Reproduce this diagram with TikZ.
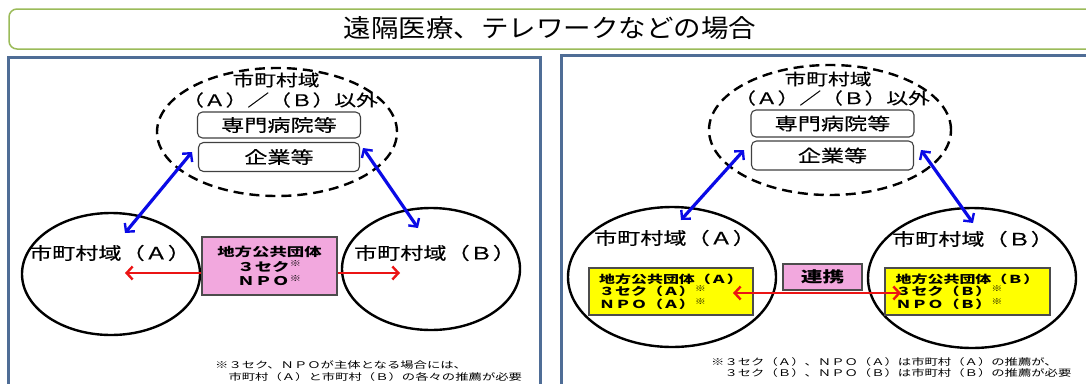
\documentclass[tikz,border=0pt]{standalone}
\usepackage{fontspec}
\setmainfont{Noto Sans CJK JP}
\newfontfamily\jpwide[FakeStretch=1.45]{Noto Sans CJK JP}
\newfontfamily\jplabel[FakeStretch=1.36,FakeBold=0.4]{Noto Sans CJK JP}
\newfontfamily\jptitle[FakeStretch=1.1]{Noto Sans CJK JP}
\usetikzlibrary{shapes.geometric,arrows,arrows.meta,positioning}
\definecolor{titlegreen}{RGB}{155,187,89}
\definecolor{panelblue}{RGB}{79,109,150}
\definecolor{boxpink}{RGB}{242,168,222}
\definecolor{boxyellow}{RGB}{255,255,0}
\definecolor{arrblue}{RGB}{10,10,230}
\definecolor{arrred}{RGB}{235,20,20}

\begin{document}
\begin{tikzpicture}[x=1pt,y=-1pt,
>={Straight Barb[length=6pt,width=13pt,line width=2.4pt]}]
\tikzstyle{area}=[ellipse,draw=black,line width=2.4pt,inner sep=0pt]
\tikzstyle{outside}=[ellipse,draw=black,line width=2.4pt,
dash pattern=on 10pt off 6pt,inner sep=0pt]
\tikzstyle{orgbox}=[rectangle,rounded corners=5pt,draw=black!75,
line width=1.1pt,inner sep=0pt,node distance=32pt,
font=\jplabel\fontsize{17}{19}\selectfont]
\tikzstyle{areatext}=[inner sep=0pt,font=\jplabel\fontsize{17}{19}\selectfont]
\tikzstyle{outtext}=[inner sep=0pt,font=\jplabel\fontsize{16}{18}\selectfont]
\tikzstyle{groupbox}=[rectangle,draw=black!70,line width=1.2pt,inner sep=0pt,
font=\jpwide\bfseries\fontsize{11}{12.5}\selectfont]
\tikzstyle{note}=[inner sep=0pt,anchor=north west,align=left,
font=\jpwide\fontsize{9.2}{11.5}\selectfont]
\tikzstyle{link}=[<->,line width=3.2pt,draw=arrblue]
\tikzstyle{tie}=[line width=2.6pt,draw=arrred]

\useasboundingbox (0,0) rectangle (1086,383);
\clip (0,0) rectangle (1086,383);
\fill[white] (0,0) rectangle (1086,383);

% title and panels
\draw[titlegreen,line width=1.5pt,rounded corners=8pt] (9,9) rectangle (1100,49);
\node[inner sep=0pt,font=\jptitle\fontsize{25}{27}\selectfont] (title) at (550,28)
{遠隔医療、テレワークなどの場合};
\draw[panelblue,line width=3pt] (8,400) -- (8,57) -- (540,57) -- (540,400);
\draw[panelblue,line width=3pt] (561,400) -- (561,55) -- (1100,55);

% left panel
\node[outside,minimum width=240pt,minimum height=128pt] (outL) at (277,132) {};
\node[outtext] (outL1) at (276,80) {市町村域};
\node[outtext] (outL2) at (280,100) {（Ａ）／（Ｂ）以外};
\node[orgbox,minimum width=163pt,minimum height=26pt] (hospL) at (279,125) {専門病院等};
\node[orgbox,minimum width=161pt,minimum height=29pt,below of=hospL] (compL) {企業等};

\node[area,minimum width=178pt,minimum height=122pt] (areaLA) at (111,274) {};
\node[area,minimum width=178pt,minimum height=122pt] (areaLB) at (431,269) {};
\node[areatext] (nameLA) at (110,253) {市町村域（Ａ）};
\node[areatext] (nameLB) at (435,253) {市町村域（Ｂ）};

\node[groupbox,fill=boxpink,minimum width=135pt,minimum height=58pt,align=center,
font=\jpwide\bfseries\fontsize{12}{14.5}\selectfont] (groupL) at (269.5,266)
{地方公共団体\\３セク\textsuperscript{※}\\ＮＰＯ\textsuperscript{※}};

\coordinate (tipLA) at (125,273);
\coordinate (tipLB) at (400,273);
\draw[tie,->] (tipLA -| groupL.west) -- (tipLA);
\draw[tie,->] (tipLB -| groupL.east) -- (tipLB);

\coordinate (upLA) at (125,233);
\coordinate (dnLA) at (192,152);
\coordinate (upLB) at (418,228);
\coordinate (dnLB) at (363,148);
\draw[link] (upLA) -- (dnLA);
\draw[link] (dnLB) -- (upLB);

\node[note] (noteL) at (215,361)
{※３セク、ＮＰＯが主体となる場合には、\\　市町村（Ａ）と市町村（Ｂ）の各々の推薦が必要};

% right panel
\node[outside,minimum width=242pt,minimum height=130pt] (outR) at (830,130) {};
\node[outtext] (outR1) at (828,79) {市町村域};
\node[outtext] (outR2) at (832,98) {（Ａ）／（Ｂ）以外};
\node[orgbox,minimum width=163pt,minimum height=27pt] (hospR) at (832.5,123.5) {専門病院等};
\node[orgbox,minimum width=162pt,minimum height=29pt,below of=hospR] (compR) {企業等};

\node[area,minimum width=208pt,minimum height=140pt] (areaRA) at (672,277) {};
\node[area,minimum width=208pt,minimum height=140pt] (areaRB) at (972,278) {};
\node[areatext] (nameRA) at (675,238) {市町村域（Ａ）};
\node[areatext] (nameRB) at (973,239) {市町村域（Ｂ）};

\node[groupbox,fill=boxyellow,minimum width=164pt,minimum height=47pt,align=left] (groupRA)
at (671,291.5) {地方公共団体（Ａ）\\３セク（Ａ）\textsuperscript{※}\\ＮＰＯ（Ａ）\textsuperscript{※}};
\node[groupbox,fill=boxyellow,minimum width=165pt,minimum height=47pt,align=left] (groupRB)
at (967.5,291.5) {地方公共団体（Ｂ）\\３セク（Ｂ）\textsuperscript{※}\\ＮＰＯ（Ｂ）\textsuperscript{※}};

\node[groupbox,fill=boxpink,minimum width=79pt,minimum height=26pt,
font=\jpwide\bfseries\fontsize{15}{17}\selectfont] (tieR) at (822.5,277) {連携};

\coordinate (tipRA) at (733,293);
\coordinate (tipRB) at (901,293);
\draw[tie,<->] (tipRA) -- (tipRB);

\coordinate (upRA) at (681,220);
\coordinate (dnRA) at (744,150);
\coordinate (upRB) at (973,223);
\coordinate (dnRB) at (921,150);
\draw[link] (upRA) -- (dnRA);
\draw[link] (dnRB) -- (upRB);

\node[note] (noteR) at (711,357)
{※３セク（Ａ）、ＮＰＯ（Ａ）は市町村（Ａ）の推薦が、\\　３セク（Ｂ）、ＮＰＯ（Ｂ）は市町村（Ｂ）の推薦が必要};

\end{tikzpicture}
\end{document}
